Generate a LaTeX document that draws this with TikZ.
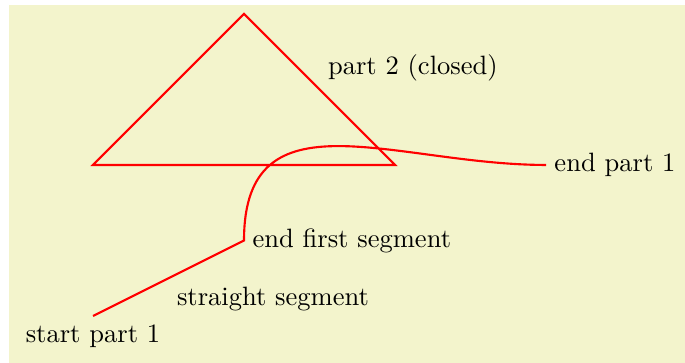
\documentclass[tikz,border=0pt]{standalone}
\usepackage{amsmath,amssymb}
\usepackage{xcolor}
\usepackage{tikz}
\usetikzlibrary{positioning,calc}

\definecolor{bgpale}{RGB}{243,244,204}

\begin{document}
\begin{tikzpicture}[
    path/.style={draw=red, thick},
    lbl/.style={inner sep=3pt}
  ]
  \useasboundingbox (-1.232,-0.623) rectangle (7.841,4.185);
  \fill[bgpale] (-1.113,-0.623) rectangle (7.841,4.119);

  % Points
  \coordinate (s)  at (0,0);
  \coordinate (e1) at (2,1);
  \coordinate (c1) at (2,3);
  \coordinate (c2) at (4,2);
  \coordinate (e2) at (6,2);
  \coordinate (t0) at (0,2);
  \coordinate (t1) at (2,4);
  \coordinate (t2) at (4,2);

  % Path
  \draw[path] (s) -- (e1) .. controls (c1) and (c2) .. (e2)
              (t0) -- (t1) -- (t2) -- cycle;

  % Labels
  \node[lbl, below=0pt of s] (ls) {start part 1};
  \node[lbl, below right=0pt of $(s)!0.5!(e1)$] (lm) {straight segment};
  \node[lbl, right=0pt of e1] (le1) {end first segment};
  \node[lbl, right=0pt of e2] (le2) {end part 1};
  \node[lbl, above right=0pt of $(t1)!0.5!(t2)$] (lt) {part 2 (closed)};
\end{tikzpicture}
\end{document}
